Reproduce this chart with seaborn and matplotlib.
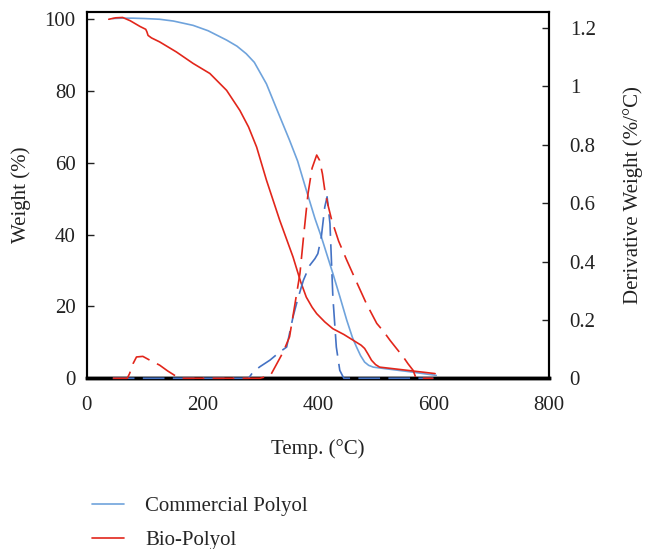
import numpy as np
import pandas as pd
import matplotlib
matplotlib.use("Agg")
import matplotlib.pyplot as plt
import seaborn as sns
from matplotlib.lines import Line2D

# ---- data ----
comm_tga_T = [45, 60, 80, 100, 126, 150, 184, 210, 242, 260, 276, 290, 311, 330, 351, 365, 380, 395, 406, 416,
              426, 438, 450, 460, 467, 474, 481, 488, 496, 520, 560, 605]
comm_tga_W = [100.2, 100.3, 100.3, 100.2, 100.0, 99.5, 98.3, 96.8, 94.2, 92.5, 90.4, 88.0, 82.0, 74.5, 66.3, 60.5,
              52.4, 44.5, 39.4, 34.3, 29.2, 22.8, 16.2, 11.3, 8.7, 6.3, 4.5, 3.6, 3.1, 2.6, 1.8, 0.8]

bio_tga_T = [38, 50, 62, 75, 92, 102, 104, 106, 112, 126, 155, 184, 213, 242, 265, 280, 294, 311, 334, 357, 370,
             380, 390, 398, 412, 426, 445, 461, 475, 481, 487, 493, 500, 507, 550, 603]
bio_tga_W = [100.0, 100.4, 100.5, 99.6, 98.0, 97.2, 96.5, 95.5, 94.8, 93.7, 90.9, 87.7, 84.9, 80.2, 74.6, 70.0,
             64.4, 55.2, 44.0, 33.8, 27.0, 22.6, 19.8, 18.0, 15.7, 13.8, 12.2, 10.6, 9.2, 8.3, 6.7, 5.0, 3.8, 3.1,
             2.3, 1.3]

bio_dtg_T = [45, 70, 74, 80, 86, 97, 109, 126, 140, 152, 160, 200, 250, 300, 318, 326, 340, 351, 360, 369, 376,
             383, 390, 398, 403, 408, 412, 418, 424, 436, 450, 467, 484, 502, 514, 525, 537, 548, 556, 565, 570, 600]
bio_dtg_D = [0, 0, 0.016, 0.05, 0.073, 0.075, 0.062, 0.045, 0.025, 0.01, 0, 0, 0, 0, 0.01, 0.039, 0.09, 0.142,
             0.25, 0.359, 0.5, 0.633, 0.72, 0.765, 0.747, 0.7, 0.645, 0.59, 0.542, 0.47, 0.405, 0.33, 0.256, 0.188,
             0.16, 0.13, 0.10, 0.073, 0.05, 0.027, 0, 0]

comm_dtg_T = [45, 100, 200, 280, 288, 300, 317, 334, 346, 357, 365, 375, 386, 395, 400, 406, 412, 416, 421, 426,
              432, 438, 445, 480, 600]
comm_dtg_D = [0, 0, 0, 0, 0.022, 0.04, 0.062, 0.09, 0.107, 0.21, 0.27, 0.336, 0.387, 0.41, 0.427, 0.484, 0.587,
              0.622, 0.53, 0.279, 0.107, 0.027, 0, 0, 0]

x_ticks = [0, 200, 400, 600, 800]
y_ticks = [0, 20, 40, 60, 80, 100]
y2_ticks = [0, 0.2, 0.4, 0.6, 0.8, 1.0, 1.2]
y2_labels = ["0", "0.2", "0.4", "0.6", "0.8", "1", "1.2"]
series_names = ["Commercial Polyol", "Bio-Polyol"]

# ---- style ----
sns.set_style("white")
plt.rcParams['font.family'] = ['Liberation Serif', 'DejaVu Serif']

c_light_blue = "#6fa3dc"
c_dark_blue = "#4472c4"
c_red = "#e2261b"
txt = '#222222'

fig = plt.figure(figsize=(6.48, 5.49), dpi=100)
ax = fig.add_axes([0.134, 0.311, 0.713, 0.667])
ax2 = ax.twinx()

df_ct = pd.DataFrame({"T": comm_tga_T, "W": comm_tga_W})
df_bt = pd.DataFrame({"T": bio_tga_T, "W": bio_tga_W})
df_bd = pd.DataFrame({"T": bio_dtg_T, "D": bio_dtg_D})
df_cd = pd.DataFrame({"T": comm_dtg_T, "D": comm_dtg_D})

lw = 1.2
sns.lineplot(data=df_ct, x="T", y="W", ax=ax, color=c_light_blue, lw=lw, errorbar=None, clip_on=False, zorder=3)
sns.lineplot(data=df_bt, x="T", y="W", ax=ax, color=c_red, lw=lw, errorbar=None, clip_on=False, zorder=3)
sns.lineplot(data=df_cd, x="T", y="D", ax=ax2, color=c_dark_blue, lw=lw, errorbar=None,
             linestyle=(0, (13, 5)), clip_on=False, zorder=3)
sns.lineplot(data=df_bd, x="T", y="D", ax=ax2, color=c_red, lw=lw, errorbar=None,
             linestyle=(0, (13, 5)), clip_on=False, zorder=3)

ax.set_xlim(0, 800)
ax.set_ylim(0, 102)
ax2.set_ylim(0, 1.255)
ax.set_xticks(x_ticks)
ax.set_yticks(y_ticks)
ax2.set_yticks(y2_ticks)
ax2.set_yticklabels(y2_labels)

fs = 15
ax.tick_params(axis='x', direction='in', length=5, width=1, pad=13, labelsize=fs, colors=txt)
ax.tick_params(axis='y', direction='in', length=5, width=1, pad=8, labelsize=fs, colors=txt)
ax2.tick_params(axis='y', direction='in', length=5, width=1, pad=15, labelsize=fs, colors=txt)
for a in (ax, ax2):
    for s in a.spines.values():
        s.set_color('black')
        s.set_linewidth(1.5)
    a.spines['bottom'].set_linewidth(2.5)
    a.spines['bottom'].set_zorder(1)
    a.set_facecolor('none')

ax.set_xlabel("Temp. (°C)", fontsize=fs, labelpad=17, color=txt)
ax.set_ylabel("Weight (%)", fontsize=fs, labelpad=10, color=txt)
ax2.set_ylabel("Derivative Weight (%/°C)", fontsize=fs, labelpad=20, color=txt)

handles = [Line2D([0], [0], color=c_light_blue, lw=lw), Line2D([0], [0], color=c_red, lw=lw)]
fig.legend(handles, series_names, loc='lower left', bbox_to_anchor=(0.113, -0.036), frameon=False,
           fontsize=fs, handlelength=1.55, handletextpad=1.0, labelspacing=0.7)

fig.savefig("out.png", dpi=100)
